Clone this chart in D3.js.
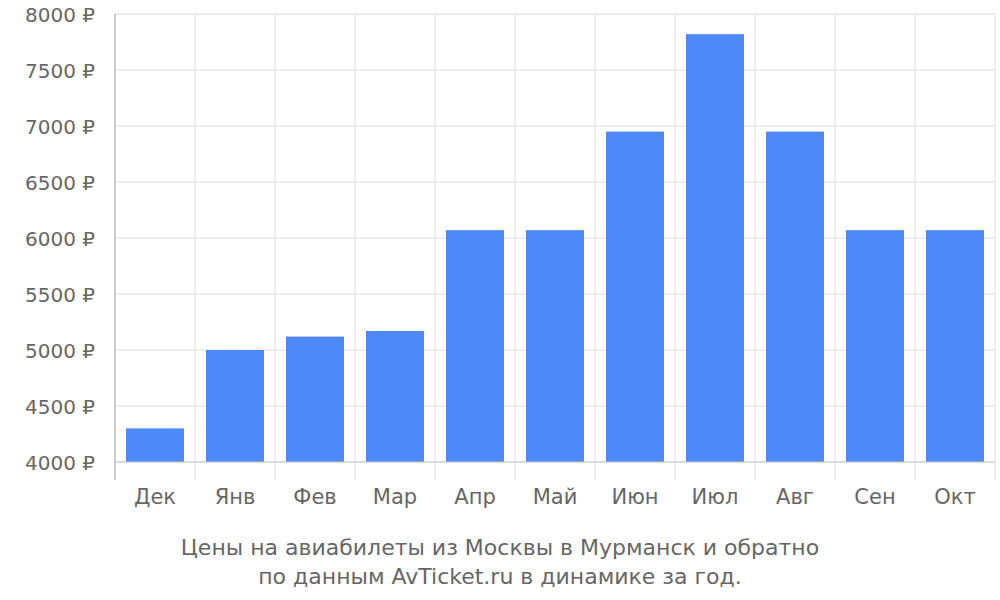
<!DOCTYPE html>
<html><head><meta charset="utf-8">
<script src="https://cdn.jsdelivr.net/npm/d3@7"></script>
<style>body{margin:0;background:#fff}svg{font-family:"DejaVu Sans",sans-serif}</style>
</head><body><svg width="1000" height="600"></svg>
<script>
const months = ["Дек","Янв","Фев","Мар","Апр","Май","Июн","Июл","Авг","Сен","Окт"];
const prices = [4300,5000,5120,5170,6070,6070,6950,7820,6950,6070,6070];
const yTicks = [4000,4500,5000,5500,6000,6500,7000,7500,8000];
const captionLines = ["Цены на авиабилеты из Москвы в Мурманск и обратно","по данным AvTicket.ru в динамике за год."];

const svg = d3.select("svg");
const plotLeft = 115, plotRight = 995, plotTop = 14, plotBottom = 462;
const x = d3.scaleBand(months, [plotLeft, plotRight]).paddingInner(0.275).paddingOuter(0.1375);
const y = d3.scaleLinear([4000, 8000], [plotBottom, plotTop]);
const band = (plotRight - plotLeft) / months.length;
const grid = "#dcdcdc", textColor = "#666";

// horizontal grid + labels
svg.append("g").selectAll("line").data(yTicks).join("line")
	.attr("x1", plotLeft).attr("x2", plotRight)
	.attr("y1", d => y(d)).attr("y2", d => y(d))
	.attr("stroke", grid);
svg.append("g").selectAll("text").data(yTicks).join("text")
	.attr("x", 95).attr("y", d => y(d) + 8)
	.attr("text-anchor", "end").attr("fill", textColor).attr("font-size", 20)
	.text(d => d + " ₽");

// vertical grid at band edges
const edges = d3.range(months.length + 1).map(i => plotLeft + i * band);
svg.append("g").selectAll("line").data(edges).join("line")
	.attr("x1", d => d).attr("x2", d => d)
	.attr("y1", plotTop).attr("y2", 480)
	.attr("stroke", grid);
svg.append("line").attr("x1", plotLeft).attr("x2", plotLeft).attr("y1", plotTop).attr("y2", 480).attr("stroke", "#aaa");

svg.append("g").selectAll("rect").data(prices).join("rect")
	.attr("x", (d, i) => x(months[i])).attr("width", x.bandwidth())
	.attr("y", d => y(d)).attr("height", d => plotBottom - y(d))
	.attr("fill", "#4d89f9");

svg.append("line").attr("x1", plotLeft).attr("x2", plotRight).attr("y1", plotBottom).attr("y2", plotBottom).attr("stroke", "#ccc");

svg.append("g").selectAll("text").data(months).join("text")
	.attr("x", d => x(d) + x.bandwidth() / 2).attr("y", 504)
	.attr("text-anchor", "middle").attr("fill", textColor).attr("font-size", 21)
	.text(d => d);

svg.append("g").selectAll("text").data(captionLines).join("text")
	.attr("x", 500).attr("y", (d, i) => 555 + i * 29)
	.attr("text-anchor", "middle").attr("fill", textColor).attr("font-size", 22)
	.text(d => d);
</script></body></html>
